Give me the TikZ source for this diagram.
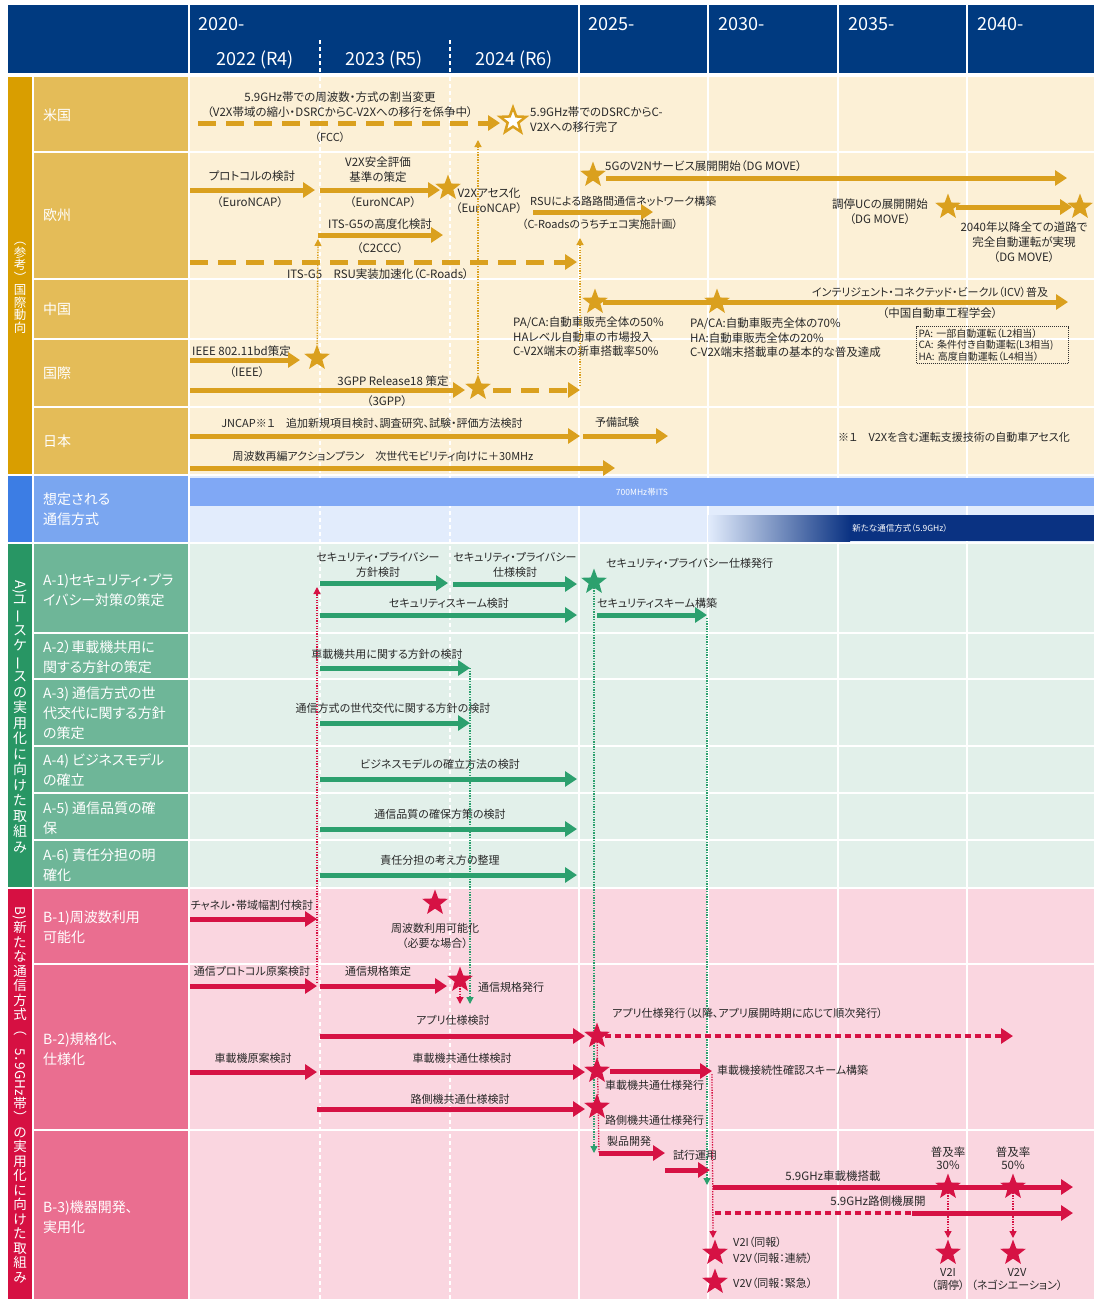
\documentclass[tikz,border=0pt]{standalone}
\usepackage{graphicx}
\usepackage{fontspec}
\setmainfont{Noto Sans CJK JP}[RawFeature={+palt}]
\usepackage{tikz}
\usetikzlibrary{arrows.meta,shapes.geometric}
\definecolor{hdblue}{RGB}{0,58,128}
\definecolor{goldbar}{RGB}{217,158,0}
\definecolor{goldlab}{RGB}{228,188,88}
\definecolor{goldbg}{RGB}{252,240,214}
\definecolor{ygold}{RGB}{218,160,30}
\definecolor{cbar}{RGB}{60,125,228}
\definecolor{clab}{RGB}{122,166,240}
\definecolor{cband}{RGB}{128,168,245}
\definecolor{cbg}{RGB}{226,236,252}
\definecolor{cdark}{RGB}{10,50,130}
\definecolor{gbar}{RGB}{40,150,100}
\definecolor{glab}{RGB}{110,182,152}
\definecolor{gbg}{RGB}{226,240,234}
\definecolor{ggreen}{RGB}{44,160,110}
\definecolor{rbar}{RGB}{214,16,66}
\definecolor{rlab}{RGB}{234,110,144}
\definecolor{rbg}{RGB}{250,214,224}
\definecolor{rred}{RGB}{214,18,68}
\definecolor{txtgray}{RGB}{40,40,40}
\newcommand{\vcho}{\rotatebox[origin=c]{90}{ー}}

\begin{document}
\begin{tikzpicture}[x=1pt,y=-1pt,
  lbl/.style={font=\fontsize{11}{14.5}\selectfont, text=txtgray, inner sep=0pt, align=center},
  big/.style={font=\fontsize{11.5}{15}\selectfont},
  rowlbl/.style={font=\fontsize{14}{20}\selectfont, text=white, inner sep=0pt, align=left, anchor=west},
  seclbl/.style={text=white, inner sep=0pt, align=center},
  yr/.style={font=\fontsize{18}{20}\selectfont, text=white, inner sep=0pt},
  yarr/.style={draw=ygold, line width=5pt, -{Triangle[length=12pt,width=15pt]}},
  ydash/.style={yarr, dash pattern=on 18pt off 10pt},
  garr/.style={yarr, draw=ggreen},
  rarr/.style={yarr, draw=rred},
  rdots/.style={draw=rred, line width=4.5pt, dash pattern=on 6pt off 4pt},
  ylink/.style={draw=ygold, line width=1.3pt, dash pattern=on 1.3pt off 1.3pt, -{Triangle[length=7pt,width=7pt]}},
  glink/.style={ylink, draw=ggreen},
  rlink/.style={ylink, draw=rred},
  ystar/.style={star, star points=5, star point ratio=2.4, fill=ygold, minimum size=27pt, inner sep=0pt},
  gstar/.style={ystar, fill=ggreen},
  rstar/.style={ystar, fill=rred}]
\useasboundingbox (0,0) rectangle (1094,1299);
% Header
\fill[hdblue] (8,5) rectangle (1094,73);
\foreach \x in {189,579,708,838,967} \draw[white, line width=1.5pt] (\x,5) -- (\x,73);
\foreach \x in {320,450} \draw[white, line width=1.2pt, dash pattern=on 4pt off 3pt] (\x,40) -- (\x,73);
\node[yr, anchor=west] (h2020) at (198,24) {2020-};
\foreach \x/\t in {588/2025-,718/2030-,848/2035-,977/2040-}
  \node[yr, anchor=west] (h\x) at (\x,24) {\t};
\foreach \x/\t in {255/2022 (R4),384/2023 (R5),514/2024 (R6)}
  \node[yr] (s\x) at (\x,60) {\t};
% Section backgrounds
\foreach \cb/\cl/\cg/\t/\b in {goldbar/goldlab/goldbg/77/474, cbar/clab/cbg/476/542, gbar/glab/gbg/544/887, rbar/rlab/rbg/889/1299} {
  \fill[\cb] (8,\t) rectangle (32,\b);
  \fill[\cl] (34,\t) rectangle (188,\b);
  \fill[\cg] (190,\t) rectangle (1094,\b);
}
\foreach \y in {152,279,339,407,633,679,746,793,840,964,1130}
  \draw[white, line width=2pt] (34,\y) -- (1094,\y);
\foreach \x in {579,708,838,967} \draw[white, line width=1.5pt] (\x,77) -- (\x,1299);
\foreach \x in {320,450} \draw[white, line width=1.2pt, dash pattern=on 4pt off 3pt] (\x,77) -- (\x,1299);
% Section labels
\node[seclbl, font=\fontsize{12.5}{12.5}\selectfont] (secy) at (20,288) {︵\\参\\考\\︶\\国\\際\\動\\向};
\node[seclbl, font=\fontsize{14}{15.5}\selectfont] (secg) at (20,717)
  {\rotatebox{-90}{A)}\\ユ\\\vcho\\ス\\ケ\\\vcho\\ス\\の\\実\\用\\化\\に\\向\\け\\た\\取\\組\\み};
\node[seclbl, font=\fontsize{13.5}{14.5}\selectfont] (secr) at (20,1095)
  {\rotatebox{-90}{B)}\\新\\た\\な\\通\\信\\方\\式\\︵\\\rotatebox{-90}{5．9GHz}\\帯\\︶\\の\\実\\用\\化\\に\\向\\け\\た\\取\\組\\み};
% Row labels
\node[rowlbl] (lus) at (43,115) {米国};
\node[rowlbl] (leu) at (43,215) {欧州};
\node[rowlbl] (lcn) at (43,309) {中国};
\node[rowlbl] (lin) at (43,373) {国際};
\node[rowlbl] (ljp) at (43,441) {日本};
\node[rowlbl] (lcom) at (43,509) {想定される\\通信方式};
\node[rowlbl] (la1) at (43,590) {A-1)セキュリティ・プラ\\イバシー対策の策定};
\node[rowlbl] (la2) at (43,657) {A-2）車載機共用に\\関する方針の策定};
\node[rowlbl] (la3) at (43,713) {A-3) 通信方式の世\\代交代に関する方針\\の策定};
\node[rowlbl] (la4) at (43,770) {A-4) ビジネスモデル\\の確立};
\node[rowlbl] (la5) at (43,818) {A-5) 通信品質の確\\保};
\node[rowlbl] (la6) at (43,865) {A-6) 責任分担の明\\確化};
\node[rowlbl] (lb1) at (43,927) {B-1)周波数利用\\可能化};
\node[rowlbl] (lb2) at (43,1049) {B-2)規格化、\\仕様化};
\node[rowlbl] (lb3) at (43,1217) {B-3)機器開発、\\実用化};
% US
\node[lbl, big] (us1) at (340,97) {5.9GHz帯での周波数・方式の割当変更};
\node[lbl, big] (us2) at (340,112) {（V2X帯域の縮小・DSRCからC-V2Xへの移行を係争中）};
\draw[ydash] (198,123) -- (500,123);
\node[lbl] (fcc) at (330,137) {（FCC）};
\node[ystar, fill=white, draw=ygold, line width=2.5pt] (usst) at (513,121) {};
\node[lbl, big, align=left, anchor=west] (us3) at (530,120) {5.9GHz帯でのDSRCからC-\\V2Xへの移行完了};
% Europe
\node[lbl, big] (eu1) at (252,176) {プロトコルの検討};
\draw[yarr] (190,190) -- (315,190);
\node[lbl, big] (eu1b) at (250,202) {（EuroNCAP）};
\node[lbl, big] (eu2) at (378,170) {V2X安全評価\\基準の策定};
\draw[yarr] (320,190) -- (440,190);
\node[ystar] (eust1) at (448,188) {};
\node[lbl, big] (eu2b) at (383,202) {（EuroNCAP）};
\node[lbl, big] (eu3) at (489,201) {V2Xアセス化\\（EuroNCAP）};
\node[lbl, anchor=west] (eu4) at (530,201) {RSUによる路路間通信ネットワーク構築};
\draw[yarr] (533,212) -- (653,212);
\node[lbl] (eu4b) at (600,224) {（C-Roadsのうちチェコ実施計画）};
\node[lbl, big] (eu5) at (380,224) {ITS-G5の高度化検討};
\coordinate (itsS) at (318,235);
\draw[yarr] (itsS) -- (443,235);
\node[lbl, big] (eu5b) at (380,248) {（C2CCC）};
\draw[ydash] (190,262) -- (577,262);
\node[lbl, big] (eu6) at (378,274) {ITS-G5\quad RSU実装加速化（C-Roads）};
\node[ystar] (eust2) at (593,175) {};
\node[lbl, big, anchor=west] (eu7) at (605,166) {5GのV2Nサービス展開開始（DG MOVE）};
\draw[yarr] (606,178) -- (1067,178);
\node[lbl, big] (eu8) at (880,212) {調停UCの展開開始\\（DG MOVE）};
\node[ystar] (eust3) at (948,207) {};
\node[ystar] (eust4) at (1080,207) {};
\draw[yarr] (eust3) -- (eust4);
\node[lbl, big] (eu9) at (1024,242) {2040年以降全ての道路で\\完全自動運転が実現\\（DG MOVE）};
% China
\node[ystar] (cnst1) at (595,302) {};
\draw[yarr] (cnst1) -- (1068,302);
\node[ystar] (cnst2) at (717,302) {};
\node[lbl] (cn1) at (930,292) {インテリジェント・コネクテッド・ビークル（ICV）普及};
\node[lbl, big] (cn2) at (940,313) {（中国自動車工程学会）};
\node[lbl, font=\fontsize{11.5}{14.5}\selectfont, align=left, anchor=north west] (cn3) at (513,317)
  {PA/CA:自動車販売全体の50\%\\HAレベル自動車の市場投入\\C-V2X端末の新車搭載率50\%};
\node[lbl, font=\fontsize{11.5}{14.5}\selectfont, align=left, anchor=north west] (cn4) at (690,318)
  {PA/CA:自動車販売全体の70\%\\HA:自動車販売全体の20\%\\C-V2X端末搭載車の基本的な普及達成};
\node[draw=black!80, densely dotted, line width=1pt, text=txtgray, font=\fontsize{10}{11.5}\selectfont,
  align=left, text width=148pt, inner sep=2pt, anchor=north west] (cndef) at (916,326)
  {PA: 一部自動運転（L2相当）\\CA: 条件付き自動運転(L3相当)\\HA: 高度自動運転（L4相当）};
% International
\node[lbl, big, anchor=west] (in1) at (192,351) {IEEE 802.11bd策定};
\draw[yarr] (190,360) -- (300,360);
\node[ystar] (inst1) at (317,358) {};
\node[lbl, big] (in1b) at (247,372) {（IEEE）};
\node[lbl, big] (in2) at (393,381) {3GPP Release18 策定};
\draw[yarr] (190,390) -- (465,390);
\node[ystar] (inst2) at (478,388) {};
\coordinate (gppE) at (580,390);
\draw[ydash] (493,390) -- (gppE);
\node[lbl, big] (in2b) at (387,401) {（3GPP）};
\draw[ylink] (inst1) -- ([yshift=-4pt]itsS);
\draw[ylink] (inst2) -- (478,140);
\draw[ylink] ([yshift=4pt]gppE) -- (580,238);
% Japan
\node[lbl] (jp1) at (372,423) {JNCAP※１　追加新規項目検討、調査研究、試験・評価方法検討};
\draw[yarr] (190,436) -- (580,436);
\node[lbl] (jp2) at (617,422) {予備試験};
\draw[yarr] (583,436) -- (668,436);
\node[lbl] (jp3) at (383,456) {周波数再編アクションプラン　次世代モビリティ向けに＋30MHz};
\draw[yarr] (190,468) -- (615,468);
\node[lbl] (jp4) at (954,437) {※１　V2Xを含む運転支援技術の自動車アセス化};
% Communication
\fill[cband] (190,478) rectangle (1094,506);
\node[lbl, text=white, font=\fontsize{8.5}{10}\selectfont] (itsband) at (642,492) {700MHz帯ITS};
\shade[left color=cbg, right color=cdark] (708,515) rectangle (850,541);
\fill[cdark] (850,515) rectangle (1094,541);
\node[lbl, text=white, font=\fontsize{8.5}{10}\selectfont] (newband) at (900,528) {新たな通信方式（5.9GHz）};
% A: use cases
\node[lbl] (a1) at (378,565) {セキュリティ・プライバシー\\方針検討};
\draw[garr] (320,583) -- (448,583);
\node[lbl] (a2) at (515,565) {セキュリティ・プライバシー\\仕様検討};
\draw[garr] (453,584) -- (577,584);
\node[gstar] (ast) at (594,582) {};
\node[lbl, anchor=west] (a3) at (606,563) {セキュリティ・プライバシー仕様発行};
\node[lbl] (a4) at (449,603) {セキュリティスキーム検討};
\draw[garr] (320,615) -- (577,615);
\node[lbl, anchor=west] (a5) at (597,603) {セキュリティスキーム構築};
\coordinate (schE) at (707,615);
\draw[garr] (597,615) -- (schE);
\node[lbl] (a6) at (387,654) {車載機共用に関する方針の検討};
\coordinate (a2e) at (470,668);
\draw[garr] (320,668) -- (a2e);
\node[lbl] (a7) at (393,708) {通信方式の世代交代に関する方針の検討};
\draw[garr] (320,723) -- (470,723);
\foreach \n/\y/\txt in {a8/764/ビジネスモデルの確立方法の検討, a9/814/通信品質の確保方策の検討, a10/860/責任分担の考え方の整理} {
  \node[lbl] (\n) at (440,\y) {\txt};
  \draw[garr] (320,\y+15) -- (577,\y+15);
}
\draw[glink] (ast) -- (594,1153);
\draw[glink] ([yshift=-3pt]schE) -- (707,1185);
\draw[glink] (a2e) -- (470,1004);
% B: 5.9GHz
\node[lbl] (b1) at (252,905) {チャネル・帯域幅割付検討};
\draw[rarr] (190,919) -- (317,919);
\node[rstar] (bst1) at (435,903) {};
\node[lbl] (b2) at (435,936) {周波数利用可能化\\（必要な場合）};
\node[lbl] (b3) at (252,971) {通信プロトコル原案検討};
\coordinate (b3e) at (317,986);
\draw[rarr] (190,986) -- (b3e);
\node[lbl] (b4) at (378,971) {通信規格策定};
\draw[rarr] (320,986) -- (447,986);
\node[rstar] (bst2) at (460,980) {};
\node[lbl, anchor=west] (b5) at (478,987) {通信規格発行};
\draw[rlink] (bst2) -- (460,1004);
\draw[rlink] ([yshift=3pt]b3e) -- (317,587);
\node[lbl] (b6) at (453,1020) {アプリ仕様検討};
\draw[rarr] (320,1036) -- (585,1036);
\node[rstar] (bst3) at (597,1036) {};
\draw[rdots, -{Triangle[length=12pt,width=15pt]}] (bst3) -- (1013,1036);
\node[lbl, anchor=west] (b7) at (612,1013) {アプリ仕様発行（以降、アプリ展開時期に応じて順次発行）};
\node[lbl] (b8) at (253,1058) {車載機原案検討};
\draw[rarr] (190,1072) -- (317,1072);
\node[lbl] (b9) at (462,1058) {車載機共通仕様検討};
\draw[rarr] (320,1072) -- (585,1072);
\node[rstar] (bst4) at (597,1071) {};
\coordinate (cnS) at (712,1071);
\draw[rarr] (610,1071) -- (cnS);
\node[lbl, anchor=west] (b10) at (717,1070) {車載機接続性確認スキーム構築};
\node[lbl, anchor=west] (b11) at (605,1085) {車載機共通仕様発行};
\node[lbl] (b12) at (460,1099) {路側機共通仕様検討};
\draw[rarr] (317,1109) -- (585,1109);
\node[rstar] (bst5) at (597,1107) {};
\node[lbl, anchor=west] (b13) at (605,1120) {路側機共通仕様発行};
\draw[draw=rred, line width=1.3pt, dash pattern=on 1.3pt off 1.3pt] (bst3) -- (599,1153);
\node[lbl, anchor=west] (b14) at (607,1141) {製品開発};
\draw[rarr] (599,1153) -- (665,1153);
\node[lbl, anchor=west] (b15) at (673,1155) {試行運用};
\draw[rarr] (665,1170) -- (710,1170);
\node[lbl, big] (b16) at (833,1176) {5.9GHz車載機搭載};
\draw[rarr] (713,1187) -- (1073,1187);
\node[rstar] (bst6) at (948,1187) {};
\node[rstar] (bst7) at (1013,1187) {};
\node[lbl, big, font=\fontsize{11.5}{13}\selectfont] (b17) at (948,1158) {普及率\\30\%};
\node[lbl, big, font=\fontsize{11.5}{13}\selectfont] (b18) at (1013,1158) {普及率\\50\%};
\node[lbl, big] (b19) at (878,1201) {5.9GHz路側機展開};
\draw[rdots] (715,1213) -- (912,1213);
\draw[rarr] (912,1213) -- (1073,1213);
\draw[rlink] ([yshift=-3pt]cnS) -- (713,1238);
\draw[rlink] (bst6) -- (948,1238);
\draw[rlink] (bst7) -- (1013,1238);
\node[rstar] (bst8) at (715,1253) {};
\node[rstar] (bst9) at (715,1282) {};
\node[rstar] (bst10) at (948,1253) {};
\node[rstar] (bst11) at (1013,1253) {};
\node[lbl, anchor=west] (b20) at (733,1242) {V2I（同報）};
\node[lbl, anchor=west] (b20b) at (733,1258) {V2V（同報：連続）};
\node[lbl, anchor=west] (b21) at (733,1283) {V2V（同報：緊急）};
\node[lbl, font=\fontsize{11}{13}\selectfont] (b22) at (948,1279) {V2I\\（調停）};
\node[lbl, font=\fontsize{11}{13}\selectfont] (b23) at (1017,1279) {V2V\\（ネゴシエーション）};
\end{tikzpicture}
\end{document}
